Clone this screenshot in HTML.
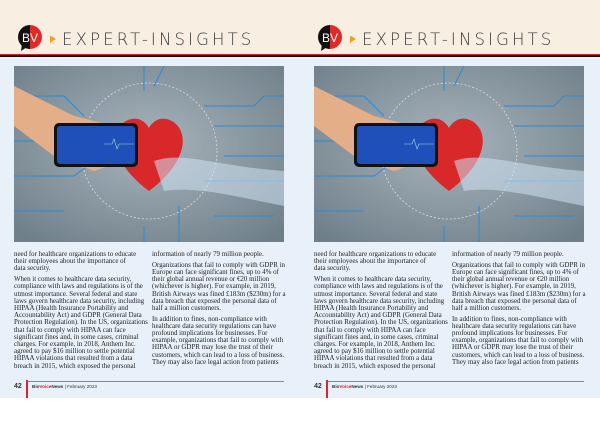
<!DOCTYPE html>
<html><head><meta charset="utf-8"><style>
*{margin:0;padding:0;box-sizing:border-box}
body{width:600px;height:424px;background:#fff;position:relative;overflow:hidden;font-family:"Liberation Serif",serif}
.pg{position:absolute;top:0;width:300px;height:424px}
.hd{position:absolute;left:0;top:0;width:300px;height:55px;background:#f8efe2}
.ln1{position:absolute;left:0;top:54px;width:300px;height:1px;background:#d8262b}
.ln2{position:absolute;left:0;top:55px;width:300px;height:2px;background:#111}
.bd{position:absolute;left:0;top:57px;width:300px;background:#e8f1fa;height:341px}
.logo{position:absolute;left:18px;top:25px;width:24px;height:24px;border-radius:50%;overflow:hidden}
.tt{position:absolute;left:62px;top:30px;font-family:"DejaVu Sans","Liberation Sans",sans-serif;font-weight:200;font-size:16.5px;letter-spacing:3.15px;color:#3a3a3a;white-space:nowrap}
.arr{position:absolute;left:51px;top:36px;width:0;height:0;border-left:5px solid #f0a020;border-top:3.5px solid transparent;border-bottom:3.5px solid transparent}
.arr2{position:absolute;left:50px;top:36px;width:1px;height:7px;background:#f0a020}
.img{position:absolute;left:14px;top:66px;width:270px;height:176px}
.col{position:absolute;top:251px;width:134px;font-size:6.95px;line-height:7.2px;letter-spacing:0;color:#222;white-space:nowrap}
.col p{margin-bottom:3.5px}
.ft{position:absolute;left:27px;top:381px;width:257px;height:1px;background:#888}
.fb{position:absolute;left:26px;top:380px;width:2px;height:18px;background:#d8262b}
.pn{position:absolute;left:14px;top:383px;font-size:7px;font-weight:bold;color:#333;font-family:"Liberation Sans",sans-serif}
.fx{position:absolute;left:32px;top:384px;font-size:4.6px;color:#333;font-family:"Liberation Sans",sans-serif}
</style></head><body>
<div class="pg" style="left:0">
<div class="hd"></div><div class="ln1"></div><div class="ln2"></div><div class="bd"></div>
<svg class="logo" viewBox="0 0 24 24" style="overflow:visible"><path d="M12 0A12 12 0 0 0 12 24Z" fill="#111"/><path d="M12 0A12 12 0 0 1 12 24Z" fill="#e02a2a"/><path d="M4 19L3 26L9 22Z" fill="#111"/><text x="4" y="17" font-size="12" fill="#fff" font-family="Liberation Sans">B</text><text x="12" y="17" font-size="12" fill="#fff" font-family="Liberation Sans">V</text></svg>
<div class="arr2"></div><div class="arr"></div>
<div class="tt">EXPERT-INSIGHTS</div>
<svg class="img" viewBox="0 0 270 176"><defs><radialGradient id="g" cx="50%" cy="45%" r="70%"><stop offset="0" stop-color="#a8b4bc"/><stop offset="1" stop-color="#6f7f89"/></radialGradient></defs>
<rect width="270" height="176" fill="url(#g)"/>
<g stroke="#2a8ad8" stroke-width="1" fill="none"><path d="M0 30H50L70 50M0 75H40M0 110H60L80 95M0 145H50M190 40H240L250 30H270M200 60H270M210 90H270M190 115H270M200 150H260M130 0V25M150 0L140 20M130 160V176M165 140V176"/></g>
<circle cx="135" cy="85" r="68" stroke="#ddd" stroke-width="0.8" stroke-dasharray="2 2" fill="none"/>
<path d="M135 125 C95 95 95 65 112 55 C125 48 133 58 135 62 C137 58 145 48 158 55 C175 65 175 95 135 125Z" fill="#d8282a"/>
<path d="M140 95 C170 85 200 100 270 105 V140 C220 130 180 120 150 125Z" fill="#cfe2f3" opacity="0.55"/>
<path d="M0 20 C20 30 40 40 60 50 L100 60 L95 100 L80 105 L40 90 L0 60Z" fill="#e4ae88"/>
<rect x="40" y="57" width="84" height="44" rx="5" fill="#111"/>
<rect x="43" y="60" width="78" height="38" rx="3" fill="#1f4fb8"/>
<path d="M90 78h8l2-5 3 10 2-5h15" stroke="#9dd" stroke-width="0.6" fill="none"/>
</svg>
<div class="col" style="left:14px">
<p>need for healthcare organizations to educate<br>their employees about the importance of<br>data security.</p>
<p>When it comes to healthcare data security,<br>compliance with laws and regulations is of the<br>utmost importance. Several federal and state<br>laws govern healthcare data security, including<br>HIPAA (Health Insurance Portability and<br>Accountability Act) and GDPR (General Data<br>Protection Regulation). In the US, organizations<br>that fail to comply with HIPAA can face<br>significant fines and, in some cases, criminal<br>charges. For example, in 2018, Anthem Inc.<br>agreed to pay $16 million to settle potential<br>HIPAA violations that resulted from a data<br>breach in 2015, which exposed the personal</p>
</div>
<div class="col" style="left:152px">
<p>information of nearly 79 million people.</p>
<p>Organizations that fail to comply with GDPR in<br>Europe can face significant fines, up to 4% of<br>their global annual revenue or €20 million<br>(whichever is higher). For example, in 2019,<br>British Airways was fined £183m ($230m) for a<br>data breach that exposed the personal data of<br>half a million customers.</p>
<p>In addition to fines, non-compliance with<br>healthcare data security regulations can have<br>profound implications for businesses. For<br>example, organizations that fail to comply with<br>HIPAA or GDPR may lose the trust of their<br>customers, which can lead to a loss of business.<br>They may also face legal action from patients</p>
</div>
<div class="ft"></div><div class="fb"></div>
<div class="pn">42</div><div class="fx"><b>Bio<span style="color:#d8262b">Voice</span>News</b> | February 2023</div>
</div>
<div class="pg" style="left:300px">
<div class="hd"></div><div class="ln1"></div><div class="ln2"></div><div class="bd"></div>
<svg class="logo" viewBox="0 0 24 24" style="overflow:visible"><path d="M12 0A12 12 0 0 0 12 24Z" fill="#111"/><path d="M12 0A12 12 0 0 1 12 24Z" fill="#e02a2a"/><path d="M4 19L3 26L9 22Z" fill="#111"/><text x="4" y="17" font-size="12" fill="#fff" font-family="Liberation Sans">B</text><text x="12" y="17" font-size="12" fill="#fff" font-family="Liberation Sans">V</text></svg>
<div class="arr2"></div><div class="arr"></div>
<div class="tt">EXPERT-INSIGHTS</div>
<svg class="img" viewBox="0 0 270 176"><rect width="270" height="176" fill="url(#g)"/>
<g stroke="#2a8ad8" stroke-width="1" fill="none"><path d="M0 30H50L70 50M0 75H40M0 110H60L80 95M0 145H50M190 40H240L250 30H270M200 60H270M210 90H270M190 115H270M200 150H260M130 0V25M150 0L140 20M130 160V176M165 140V176"/></g>
<circle cx="135" cy="85" r="68" stroke="#ddd" stroke-width="0.8" stroke-dasharray="2 2" fill="none"/>
<path d="M135 125 C95 95 95 65 112 55 C125 48 133 58 135 62 C137 58 145 48 158 55 C175 65 175 95 135 125Z" fill="#d8282a"/>
<path d="M140 95 C170 85 200 100 270 105 V140 C220 130 180 120 150 125Z" fill="#cfe2f3" opacity="0.55"/>
<path d="M0 20 C20 30 40 40 60 50 L100 60 L95 100 L80 105 L40 90 L0 60Z" fill="#e4ae88"/>
<rect x="40" y="57" width="84" height="44" rx="5" fill="#111"/>
<rect x="43" y="60" width="78" height="38" rx="3" fill="#1f4fb8"/>
<path d="M90 78h8l2-5 3 10 2-5h15" stroke="#9dd" stroke-width="0.6" fill="none"/>
</svg>
<div class="col" style="left:14px">
<p>need for healthcare organizations to educate<br>their employees about the importance of<br>data security.</p>
<p>When it comes to healthcare data security,<br>compliance with laws and regulations is of the<br>utmost importance. Several federal and state<br>laws govern healthcare data security, including<br>HIPAA (Health Insurance Portability and<br>Accountability Act) and GDPR (General Data<br>Protection Regulation). In the US, organizations<br>that fail to comply with HIPAA can face<br>significant fines and, in some cases, criminal<br>charges. For example, in 2018, Anthem Inc.<br>agreed to pay $16 million to settle potential<br>HIPAA violations that resulted from a data<br>breach in 2015, which exposed the personal</p>
</div>
<div class="col" style="left:152px">
<p>information of nearly 79 million people.</p>
<p>Organizations that fail to comply with GDPR in<br>Europe can face significant fines, up to 4% of<br>their global annual revenue or €20 million<br>(whichever is higher). For example, in 2019,<br>British Airways was fined £183m ($230m) for a<br>data breach that exposed the personal data of<br>half a million customers.</p>
<p>In addition to fines, non-compliance with<br>healthcare data security regulations can have<br>profound implications for businesses. For<br>example, organizations that fail to comply with<br>HIPAA or GDPR may lose the trust of their<br>customers, which can lead to a loss of business.<br>They may also face legal action from patients</p>
</div>
<div class="ft"></div><div class="fb"></div>
<div class="pn">42</div><div class="fx"><b>Bio<span style="color:#d8262b">Voice</span>News</b> | February 2023</div>
</div>
</body></html>
